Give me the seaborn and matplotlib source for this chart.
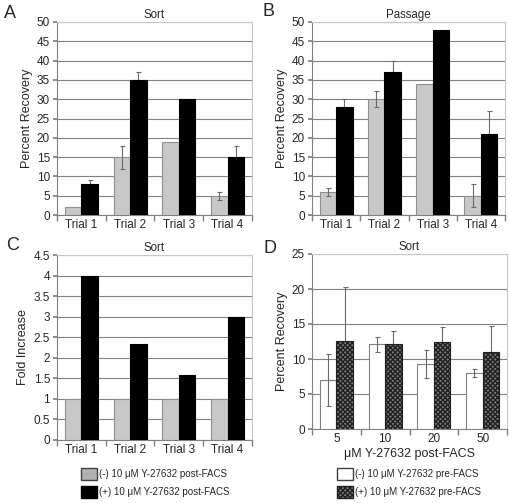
import numpy as np
import pandas as pd
import seaborn as sns
import matplotlib
matplotlib.use("Agg")
import matplotlib.pyplot as plt
from matplotlib.patches import Patch

sns.set_theme(style="white")
plt.rcParams['font.family'] = ['Liberation Sans', 'DejaVu Sans']

trials = ["Trial 1", "Trial 2", "Trial 3", "Trial 4"]
groups_post = ["(-) 10 μM Y-27632 post-FACS", "(+) 10 μM Y-27632 post-FACS"]
groups_pre = ["(-) 10 μM Y-27632 pre-FACS", "(+) 10 μM Y-27632 pre-FACS"]

a_minus = [2, 15, 19, 5]
a_minus_err = [0, 3, 0, 1]
a_plus = [8, 35, 30, 15]
a_plus_err = [1, 2, 0, 3]

b_minus = [6, 30, 34, 5]
b_minus_err = [1, 2, 0, 3]
b_plus = [28, 37, 48, 21]
b_plus_err = [2, 3, 0, 6]

c_minus = [1, 1, 1, 1]
c_plus = [4.0, 2.33, 1.58, 3.0]

doses = ["5", "10", "20", "50"]
d_minus = [7.0, 12.1, 9.3, 8.0]
d_minus_err = [3.7, 1.1, 2.0, 0.6]
d_plus = [12.6, 12.2, 12.5, 11.0]
d_plus_err = [7.7, 1.8, 2.1, 3.7]

GRAY = "#c8c8c8"
HATCH_FC = "#7a7a7a"
FS = 7

W, H = 510, 503
fig = plt.figure(figsize=(W / 100, H / 100), dpi=100)


def ax_px(left, top, right, bottom):
    return fig.add_axes([left / W, 1 - bottom / H, (right - left) / W, (bottom - top) / H])


def panel(ax, cats, minus, plus, err_minus, err_plus, ymax, ystep, title, ylabel,
          colors, edges, hatches, err_z, xlabel=None):
    df = pd.DataFrame({
        "cat": cats * 2,
        "val": list(minus) + list(plus),
        "grp": ["m"] * len(cats) + ["p"] * len(cats),
    })
    sns.barplot(data=df, x="cat", y="val", hue="grp", order=cats, hue_order=["m", "p"],
                palette=colors, width=0.68, errorbar=None, legend=False, ax=ax,
                saturation=1, zorder=3)
    for cont, ec, ht, errs, ez in zip(ax.containers, edges, hatches, [err_minus, err_plus], err_z):
        xs, ys = [], []
        for bar in cont:
            bar.set_edgecolor(ec)
            bar.set_linewidth(0.8)
            if ht:
                bar.set_hatch(ht)
            xs.append(bar.get_x() + bar.get_width() / 2)
            ys.append(bar.get_height())
        if errs is not None:
            e = np.array(errs, dtype=float)
            mask = e > 0
            ax.errorbar(np.array(xs)[mask], np.array(ys)[mask], yerr=e[mask], fmt="none",
                        ecolor="#6a6a6a", elinewidth=0.8, capsize=1.8, capthick=0.8, zorder=ez)
    ax.set_xlim(-0.5, len(cats) - 0.5)
    ax.set_ylim(0, ymax)
    ticks = np.arange(0, ymax + ystep / 2, ystep)
    ax.set_yticks(ticks)
    ax.set_yticklabels([("%g" % t) for t in ticks], fontsize=FS + 1.5)
    ax.yaxis.grid(True, color="#808080", linewidth=0.8, zorder=0)
    ax.set_axisbelow(True)
    ax.set_xticks(range(len(cats)))
    ax.set_xticklabels(cats, fontsize=FS + 1.5)
    ax.set_xticks(np.arange(-0.5, len(cats)), minor=True)
    ax.tick_params(axis="x", which="major", length=0, pad=3)
    ax.tick_params(axis="x", which="minor", length=4, color="#808080", direction="out", bottom=True)
    ax.tick_params(axis="y", length=3, color="#808080", direction="out", left=True, pad=2)
    for s in ["left", "bottom"]:
        ax.spines[s].set_color("#808080")
        ax.spines[s].set_linewidth(0.8)
    for s in ["top", "right"]:
        ax.spines[s].set_color("#c8c8c8")
        ax.spines[s].set_linewidth(0.8)
    ax.set_title(title, fontsize=FS + 1.3, pad=3)
    ax.set_ylabel(ylabel, fontsize=FS + 2, labelpad=3)
    ax.set_xlabel(xlabel if xlabel else "", fontsize=FS + 2, labelpad=2)


axA = ax_px(57, 22, 252, 215)
panel(axA, trials, a_minus, a_plus, a_minus_err, a_plus_err, 50, 5, "Sort", "Percent Recovery",
      [GRAY, "black"], ["#909090", "black"], [None, None], [4, 2])
axB = ax_px(312, 22, 505, 215)
panel(axB, trials, b_minus, b_plus, b_minus_err, b_plus_err, 50, 5, "Passage", "Percent Recovery",
      [GRAY, "black"], ["#909090", "black"], [None, None], [4, 2])
axC = ax_px(57, 255, 252, 440)
panel(axC, trials, c_minus, c_plus, None, None, 4.5, 0.5, "Sort", "Fold Increase",
      [GRAY, "black"], ["#909090", "black"], [None, None], [4, 2])
axD = ax_px(312, 254, 507, 429)
panel(axD, doses, d_minus, d_plus, d_minus_err, d_plus_err, 25, 5, "Sort", "Percent Recovery",
      ["white", HATCH_FC], ["#808080", "#202020"], [None, "xxxxxxx"], [4, 2],
      xlabel="μM Y-27632 post-FACS")

for lbl, x, y in [("A", 10, 13), ("B", 268, 12), ("C", 13, 245), ("D", 270, 248)]:
    fig.text(x / W, 1 - y / H, lbl, fontsize=13, ha="center", va="center")

leg_kw = dict(fontsize=FS, frameon=False, handlelength=1.6, handleheight=1.5,
              labelspacing=0.6, handletextpad=0.3, borderpad=0, borderaxespad=0)
h1 = [Patch(facecolor="#b0b0b0", edgecolor="#404040", linewidth=1.0),
      Patch(facecolor="black", edgecolor="black")]
fig.legend(h1, groups_post, loc="upper left", bbox_to_anchor=(81 / W, 1 - 468 / H), **leg_kw)
h2 = [Patch(facecolor="white", edgecolor="#404040", linewidth=1.0),
      Patch(facecolor=HATCH_FC, edgecolor="#202020", hatch="xxxxxxx")]
fig.legend(h2, groups_pre, loc="upper left", bbox_to_anchor=(337 / W, 1 - 468 / H), **leg_kw)

fig.savefig("out.png", dpi=100)
